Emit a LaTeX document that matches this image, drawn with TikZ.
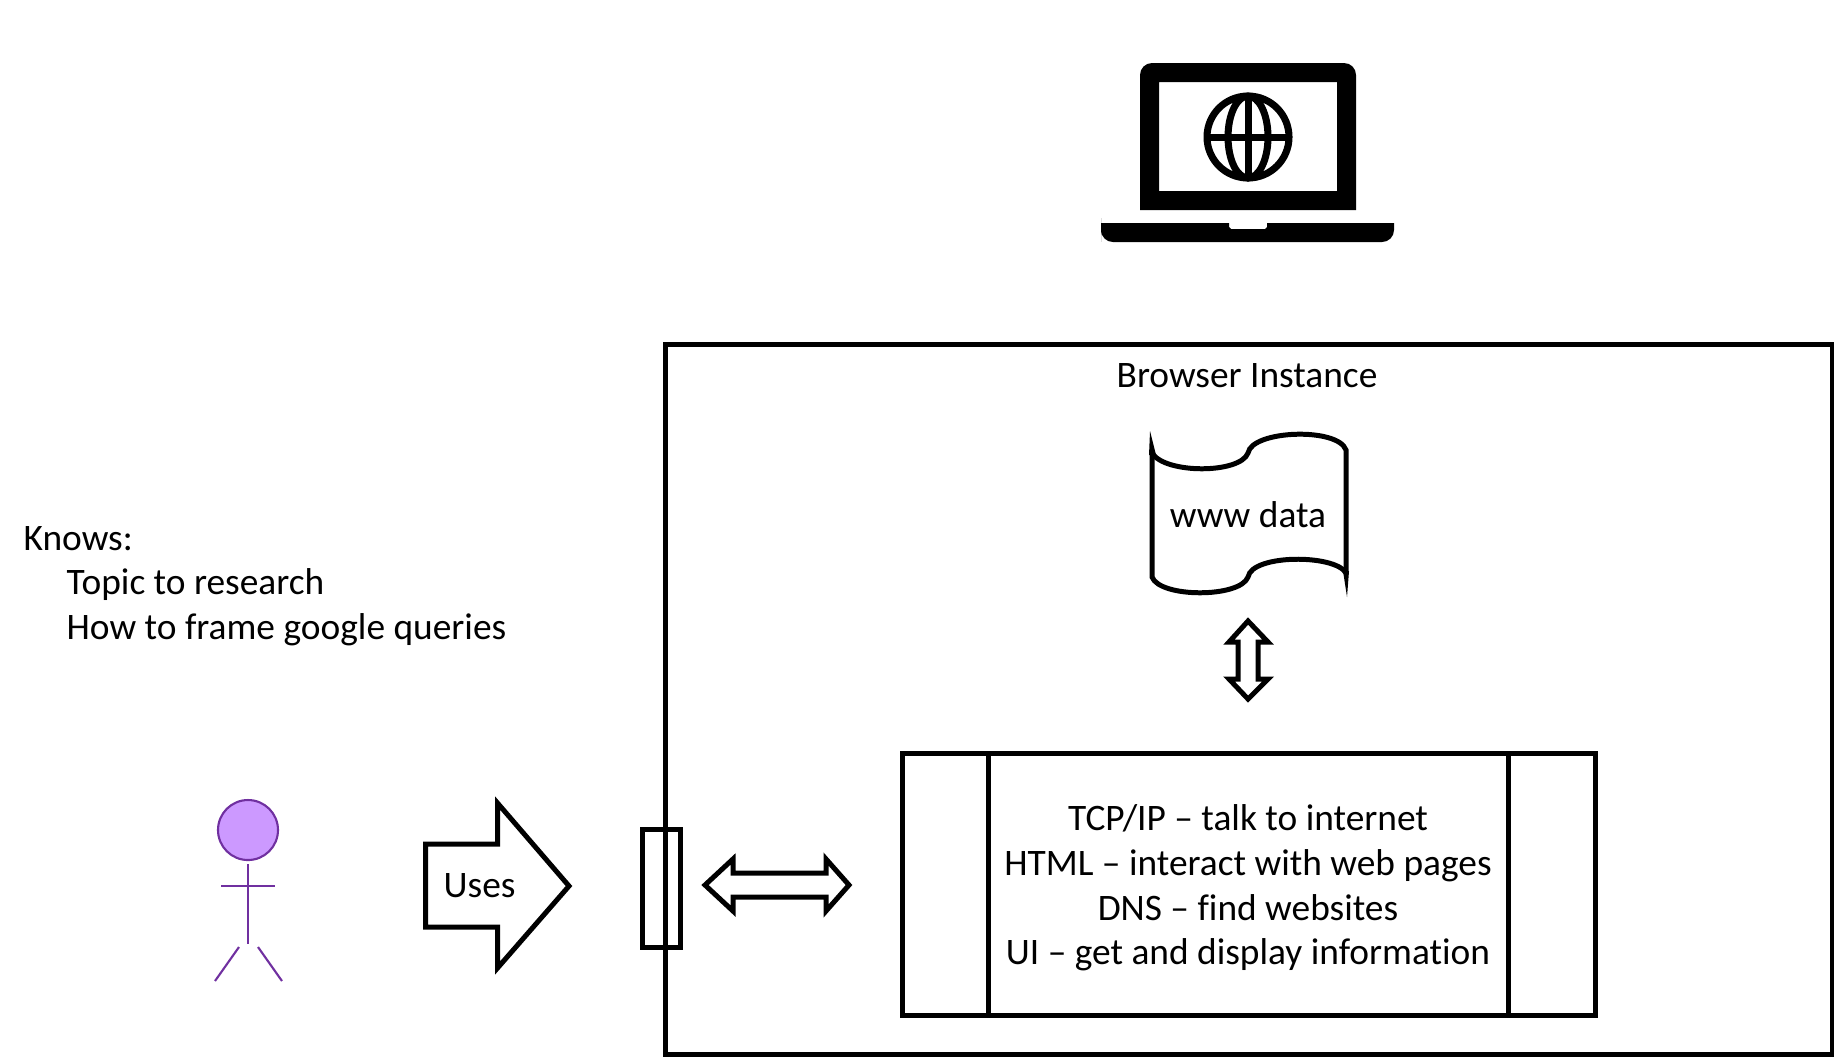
\documentclass[tikz,border=0pt]{standalone}
\usepackage{fontspec}
\setmainfont[Ligatures=NoCommon]{Carlito}
\usepackage{xcolor}
\usepackage{tikz}
\definecolor{actorline}{HTML}{7030A0}
\definecolor{actorfill}{HTML}{CC99FF}
\begin{document}
\begin{tikzpicture}[x=0.01cm, y=-0.01cm, line join=miter]
    \tikzset{outline/.style={line width=1.42pt, black}}
    \tikzset{actor/.style={line width=0.6pt, actorline}}
    \tikzset{caption/.style={inner sep=0pt, align=center, font=\fontsize{10.63}{12.7}\selectfont}}
    \tikzset{iconfill/.style={fill=black, draw=none}}
    \useasboundingbox (0,0) rectangle (1834,1059);
    % laptop
    \fill[iconfill, even odd rule] (1140,210) -- (1140,100) [rounded corners=3.4pt] -- (1140,63) -- (1356,63) -- (1356,100) [sharp corners] -- (1356,210) -- cycle
        (1159,82) rectangle (1337,191);
    \fill[iconfill] (1101,223) -- (1229,223) -- (1229,227) -- (1231,229) -- (1265,229) -- (1267,227) -- (1267,223) -- (1394,223)
        -- (1394,230) [rounded corners=3.4pt] -- (1394,242) -- (1101,242) -- (1101,230) [sharp corners] -- cycle;
    \draw[line width=2pt] (1248,137) circle[radius=41];
    \draw[line width=2pt] (1248,137) ellipse[x radius=20, y radius=41];
    \draw[line width=2pt] (1248,96) -- (1248,178);
    \draw[line width=2pt] (1207,137) -- (1289,137);
    % browser box
    \draw[outline] (665.5,344.5) rectangle (1832,1054.5);
    \node[caption] (title) at (1247,376) {Browser Instance};
    % wave
    \draw[outline] (1152,453) .. controls (1165,474) and (1240,474) .. (1248,453)
        .. controls (1252,430) and (1338,427) .. (1346,450) -- (1346,573);
    \draw[outline] (1152,453) -- (1152,577)
        .. controls (1160,598) and (1240,598) .. (1248,577)
        .. controls (1252,554) and (1335,554) .. (1346,573);
    % pointed ends of the wave
    \fill[iconfill] (1150,431) -- (1156,455) -- (1149,455) -- cycle;
    \fill[iconfill] (1347,597) -- (1343,571) -- (1349,571) -- cycle;
    \node[caption] (wwwdata) at (1248,515) {www data};
    % arrow between data and stack
    \draw[outline] (1248,621) -- (1268,642) -- (1258,642) -- (1258,679) -- (1268,679) -- (1248,699)
        -- (1229,679) -- (1238,679) -- (1238,642) -- (1229,642) -- cycle;
    % protocol stack
    \draw[outline] (902,753.5) rectangle (1595.5,1015.5);
    \draw[outline] (988,753.5) -- (988,1015.5);
    \draw[outline] (1508.5,753.5) -- (1508.5,1015.5);
    \node[caption] (stack) at (1248,888) {TCP/IP -- talk to internet\\HTML -- interact with web pages\\DNS -- find websites\\UI -- get and display information};
    % port and arrow
    \draw[outline] (642.5,829) rectangle (680.5,947.5);
    \draw[outline] (705,885) -- (733,859) -- (733,873) -- (826,873) -- (826,859) -- (849,885)
        -- (826,911) -- (826,897) -- (733,897) -- (733,911) -- cycle;
    % uses arrow
    \draw[outline] (425.5,844) -- (497.5,844) -- (497.5,803) -- (569,886) -- (497.5,968) -- (497.5,927) -- (425.5,927) -- cycle;
    \node[caption, anchor=west] (uses) at (443,886) {Uses};
    % actor
    \draw[actor, fill=actorfill] (248,830) circle[radius=30];
    \draw[actor] (248,864) -- (248,944);
    \draw[actor] (221,886) -- (275,886);
    \draw[actor] (239,947) -- (215,981);
    \draw[actor] (258,947) -- (282,981);
    % knows
    \node[caption, anchor=west] (knows) at (23,539) {Knows:};
    \node[caption, anchor=west] (topic) at (66,585) {Topic to research};
    \node[caption, anchor=west] (howto) at (66,630) {How to frame google queries};
\end{tikzpicture}
\end{document}
